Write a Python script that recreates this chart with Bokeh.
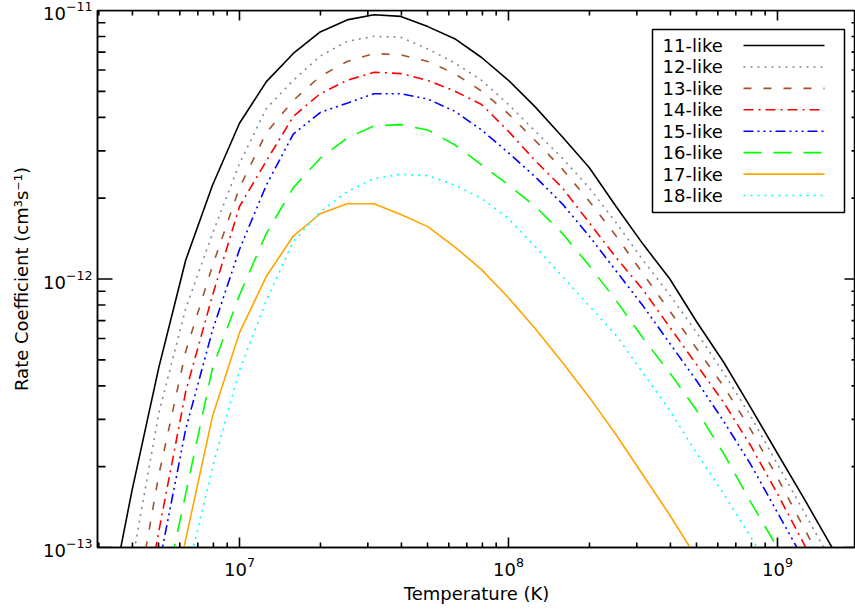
import math
from bokeh.plotting import figure
from bokeh.models import (FixedTicker, Label, Arrow, BoxAnnotation,
                          ColumnDataSource, Range1d)
from bokeh.embed import file_html
from bokeh.resources import INLINE

nan = float("nan")

# ---------------- data (log10 values) ----------------
log10_temperature = [6.5, 6.6, 6.7, 6.8, 6.9, 7.0, 7.1, 7.2, 7.3, 7.4, 7.5, 7.6, 7.7, 7.8,
                     7.9, 8.0, 8.1, 8.2, 8.3, 8.4, 8.5, 8.6, 8.7, 8.8, 8.9, 9.0, 9.1, 9.2, 9.3]

log10_rate_11 = [-13.30, -12.79, -12.33, -11.93, -11.65, -11.42, -11.265, -11.16, -11.08, -11.035,
                 -11.016, -11.022, -11.06, -11.105, -11.175, -11.26, -11.36, -11.47, -11.585, -11.73,
                 -11.87, -12.00, -12.16, -12.31, -12.478, -12.65, -12.82, -12.995, -13.16]
log10_rate_12 = [-13.60, -13.06, -12.50, -12.11, -11.83, -11.57, -11.365, -11.26, -11.17, -11.115,
                 -11.096, -11.10, -11.143, -11.195, -11.26, -11.35, -11.45, -11.55, -11.66, -11.79,
                 -11.93, -12.06, -12.20, -12.35, -12.51, -12.69, -12.87, -13.05, -13.23]
log10_rate_13 = [nan, -13.30, -12.73, -12.27, -11.95, -11.66, -11.455, -11.335, -11.245, -11.19,
                 -11.16, -11.165, -11.19, -11.235, -11.30, -11.385, -11.485, -11.59, -11.71, -11.84,
                 -11.98, -12.12, -12.26, -12.40, -12.56, -12.74, -12.93, -13.12, nan]
log10_rate_14 = [nan, -13.50, -12.94, -12.42, -12.06, -11.73, -11.56, -11.395, -11.31, -11.26,
                 -11.23, -11.235, -11.26, -11.30, -11.35, -11.45, -11.56, -11.66, -11.79, -11.92,
                 -12.04, -12.18, -12.32, -12.46, -12.62, -12.80, -12.99, -13.18, nan]
log10_rate_15 = [nan, nan, -13.07, -12.56, -12.19, -11.89, -11.65, -11.46, -11.38, -11.345,
                 -11.31, -11.31, -11.33, -11.375, -11.445, -11.53, -11.62, -11.72, -11.84, -11.97,
                 -12.10, -12.24, -12.38, -12.53, -12.69, -12.87, -13.05, nan, nan]
log10_rate_16 = [nan, nan, -13.27, -12.80, -12.33, -12.06, -11.83, -11.66, -11.55, -11.475,
                 -11.43, -11.425, -11.445, -11.50, -11.575, -11.65, -11.73, -11.83, -11.95, -12.08,
                 -12.22, -12.35, -12.49, -12.65, -12.83, -13.00, -13.18, nan, nan]
log10_rate_17 = [nan, nan, -13.45, -12.97, -12.51, -12.20, -11.99, -11.84, -11.757, -11.72,
                 -11.72, -11.76, -11.805, -11.88, -11.965, -12.07, -12.185, -12.31, -12.44, -12.58,
                 -12.73, -12.88, -13.04, -13.20, nan, nan, nan, nan, nan]
log10_rate_18 = [nan, nan, nan, -13.12, -12.70, -12.34, -12.08, -11.86, -11.75, -11.675,
                 -11.626, -11.61, -11.615, -11.65, -11.70, -11.775, -11.88, -11.99, -12.10, -12.21,
                 -12.35, -12.49, -12.65, -12.80, -12.96, -13.12, nan, nan, nan]

series_labels = ["11-like", "12-like", "13-like", "14-like",
                 "15-like", "16-like", "17-like", "18-like"]
series_values = [log10_rate_11, log10_rate_12, log10_rate_13, log10_rate_14,
                 log10_rate_15, log10_rate_16, log10_rate_17, log10_rate_18]
series_colors = ["#000000", "#7f8c9c", "#a0522d", "#ff0000",
                 "#0000ff", "#00ff00", "#ffa500", "#00ffff"]
series_dashes = ["solid", "2 5", "8 12", "10 5 2 5",
                 "10 4 2 4 2 4 2 4", "18 12", "solid", "2 5"]

x_major = [1e7, 1e8, 1e9]
y_major = [1e-13, 1e-12, 1e-11]
x_minor_all = [m * d for d in [1e6, 1e7, 1e8, 1e9] for m in range(2, 10)]
y_minor_all = [m * d for d in [1e-13, 1e-12] for m in range(2, 10)]

X_START, X_END = 2.966e6, 1.95e9
Y_START, Y_END = 1e-13, 1e-11

FONT = "DejaVu Sans"

# ---------------- layout (pixels) ----------------
W, H = 855, 613
B_LEFT, B_RIGHT, B_TOP, B_BOTTOM = 97, 0, 10, 66
FRAME_W = W - B_LEFT - B_RIGHT
FRAME_H = H - B_TOP - B_BOTTOM
PX_PER_DEC_X = FRAME_W / math.log10(X_END / X_START)
PX_PER_DEC_Y = FRAME_H / math.log10(Y_END / Y_START)

p = figure(width=W, height=H, x_axis_type="log", y_axis_type="log",
           x_range=Range1d(X_START, X_END), y_range=Range1d(Y_START, Y_END),
           output_backend="svg", toolbar_location=None,
           min_border_left=B_LEFT, min_border_right=B_RIGHT,
           min_border_top=B_TOP, min_border_bottom=B_BOTTOM)
p.outline_line_color = "#000000"
p.outline_line_width = 1.5
p.xgrid.visible = False
p.ygrid.visible = False
p.background_fill_color = "white"
p.border_fill_color = "white"

x_minor = [v for v in x_minor_all if X_START < v < X_END]
y_minor = [v for v in y_minor_all if Y_START < v < Y_END]


def style_axis(ax):
    ax.axis_line_width = 1.5
    ax.axis_line_color = "black"
    ax.major_tick_in = 0
    ax.major_tick_out = 0
    ax.minor_tick_in = 0
    ax.minor_tick_out = 0
    ax.major_label_text_font = FONT
    ax.major_label_text_font_size = "18px"
    ax.major_label_text_color = "black"
    ax.axis_label_text_font = FONT
    ax.axis_label_text_font_size = "18px"
    ax.axis_label_text_font_style = "normal"
    ax.axis_label_text_color = "black"


xa = p.xaxis[0]
xa.ticker = FixedTicker(ticks=x_major, minor_ticks=x_minor)
xa.axis_label = "Temperature (K)"
style_axis(xa)
xa.major_label_standoff = 9
xa.axis_label_standoff = 4

ya = p.yaxis[0]
ya.ticker = FixedTicker(ticks=y_major, minor_ticks=y_minor)
ya.axis_label = "Rate Coefficient (cm³s⁻¹)"
style_axis(ya)
ya.major_label_standoff = 5
ya.axis_label_standoff = 8

# ---------------- curves ----------------
temperature = [10 ** t for t in log10_temperature]
for lab, vals, col, dash in zip(series_labels, series_values, series_colors, series_dashes):
    rate = [10 ** v if v == v else nan for v in vals]
    src = ColumnDataSource(dict(x=temperature, y=rate))
    p.line("x", "y", source=src, line_color=col, line_width=1.6, line_dash=dash)

# ---------------- frame top edge and inward ticks (same kind of line renderer as the curves) ----
tx = [X_START, X_END, nan]
ty = [Y_END, Y_END, nan]
for vals, ln in ((x_major, 10), (x_minor, 5)):
    f = 10 ** (ln / PX_PER_DEC_Y)
    for v in vals:
        tx += [v, v, nan, v, v, nan]
        ty += [Y_START, Y_START * f, nan, Y_END, Y_END / f, nan]
for vals, ln_l, ln_r in ((y_major, 15, 11), (y_minor, 8, 4)):
    fl = 10 ** (ln_l / PX_PER_DEC_X)
    fr = 10 ** (ln_r / PX_PER_DEC_X)
    for v in vals:
        tx += [X_START, X_START * fl, nan, X_END, X_END / fr, nan]
        ty += [v, v, nan, v, v, nan]
tick_src = ColumnDataSource(dict(x=tx, y=ty))
p.line("x", "y", source=tick_src, line_color="#000000", line_width=1.6, line_dash="solid")

# ---------------- legend (label left, line sample right) ----------------
box = BoxAnnotation(left=555, right=747, bottom=335, top=518,
                    left_units="screen", right_units="screen",
                    bottom_units="screen", top_units="screen",
                    fill_color="white", fill_alpha=1.0,
                    line_color="black", line_width=1.5, line_alpha=1.0)
p.add_layout(box)
row_step = 21.43
for i, (lab, col, dash) in enumerate(zip(series_labels, series_colors, series_dashes)):
    ys = 502 - i * row_step
    p.add_layout(Label(x=565, y=ys, x_units="screen", y_units="screen", text=lab,
                       text_font=FONT, text_font_size="18px", text_color="black",
                       text_baseline="middle", text_align="left"))
    p.add_layout(Arrow(end=None, x_start=646, y_start=ys, x_end=727, y_end=ys,
                       start_units="screen", end_units="screen",
                       line_color=col, line_width=1.6, line_dash=dash))

open("out.html", "w").write(file_html(p, INLINE))
